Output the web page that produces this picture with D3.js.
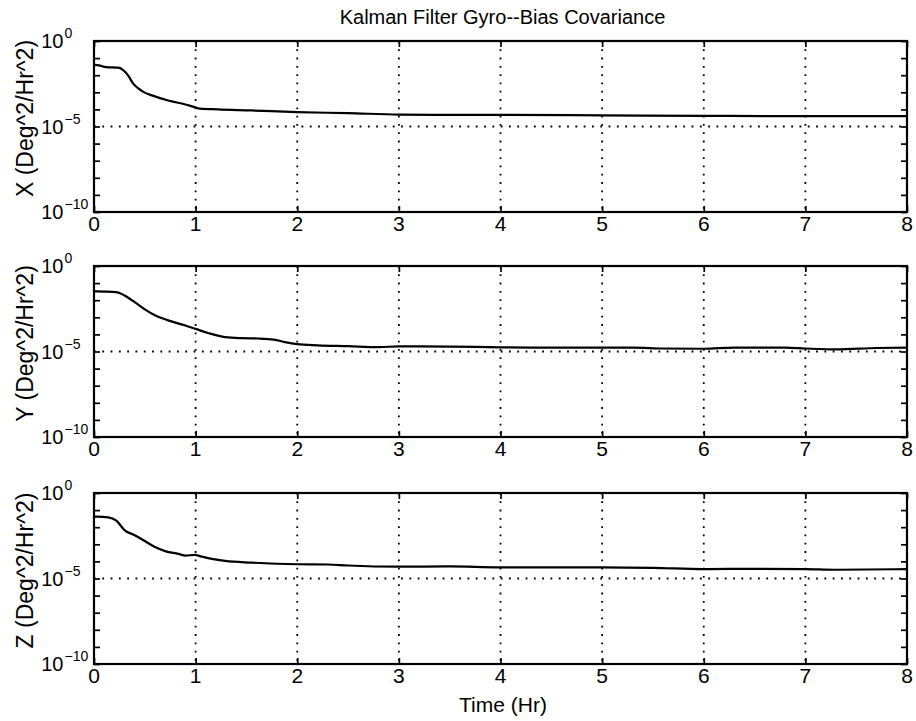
<!DOCTYPE html>
<html>
<head>
<meta charset="utf-8">
<script src="https://cdn.jsdelivr.net/npm/d3@7/dist/d3.min.js"></script>
<style>
  html, body { margin: 0; padding: 0; background: #fff; }
  svg { display: block; }
  text { font-family: "Liberation Sans", Arial, Helvetica, sans-serif; fill: #000; }
</style>
</head>
<body>
<svg id="chart" width="916" height="721"></svg>
<script>
// Gyro-bias covariance from the Kalman filter, one trace per axis (Deg^2/Hr^2)
const titleText = "Kalman Filter Gyro--Bias Covariance";
const xLabel = "Time (Hr)";
const axisNames = ["X", "Y", "Z"];
const xTicks = [0, 1, 2, 3, 4, 5, 6, 7, 8];
const yMajorExps = [0, -5, -10];
const yMinorExps = [-1, -2, -3, -4, -6, -7, -8, -9];

const timeX = [0, 0.03, 0.12, 0.24, 0.29, 0.34, 0.38, 0.43, 0.49, 0.57, 0.73, 0.90, 0.99, 1.04, 1.22, 1.55, 2.0, 2.5, 3.0, 3.5, 4.0, 5.0, 6.0, 7.0, 8.0];
const covX  = [4.0e-2, 3.9e-2, 3.0e-2, 2.75e-2, 1.9e-2, 8.9e-3, 3.6e-3, 1.8e-3, 1.02e-3, 6.6e-4, 3.3e-4, 1.95e-4, 1.35e-4, 1.12e-4, 1.0e-4, 8.7e-5, 6.9e-5, 6.0e-5, 5.0e-5, 4.8e-5, 4.8e-5, 4.5e-5, 4.2e-5, 4.0e-5, 4.0e-5];

const timeY = [0, 0.1, 0.22, 0.3, 0.4, 0.5, 0.6, 0.73, 0.9, 1.0, 1.13, 1.29, 1.45, 1.62, 1.77, 1.88, 2.0, 2.2, 2.5, 2.8, 3.0, 3.5, 4.0, 4.5, 5.0, 5.3, 5.6, 6.0, 6.3, 6.8, 7.0, 7.3, 7.7, 8.0];
const covY  = [3.3e-2, 3.2e-2, 3.0e-2, 1.9e-2, 7.8e-3, 2.9e-3, 1.3e-3, 6.6e-4, 3.3e-4, 2.1e-4, 1.17e-4, 6.9e-5, 6.0e-5, 5.75e-5, 5.0e-5, 3.55e-5, 2.7e-5, 2.3e-5, 2.05e-5, 1.8e-5, 2.0e-5, 1.95e-5, 1.75e-5, 1.7e-5, 1.7e-5, 1.7e-5, 1.5e-5, 1.45e-5, 1.7e-5, 1.7e-5, 1.5e-5, 1.32e-5, 1.6e-5, 1.7e-5];

const timeZ = [0, 0.03, 0.14, 0.22, 0.30, 0.40, 0.50, 0.60, 0.70, 0.83, 0.90, 0.99, 1.06, 1.16, 1.29, 1.55, 2.0, 2.3, 2.5, 3.0, 3.5, 4.0, 5.0, 5.5, 6.0, 6.5, 7.0, 7.3, 8.0];
const covZ  = [4.2e-2, 4.2e-2, 3.8e-2, 2.4e-2, 6.8e-3, 3.4e-3, 1.55e-3, 6.9e-4, 4.0e-4, 2.75e-4, 2.2e-4, 2.4e-4, 1.9e-4, 1.4e-4, 1.07e-4, 8.5e-5, 6.8e-5, 6.6e-5, 5.75e-5, 4.9e-5, 5.1e-5, 4.5e-5, 4.5e-5, 4.2e-5, 3.55e-5, 3.7e-5, 3.55e-5, 3.25e-5, 3.55e-5];

const seriesTimes = [timeX, timeY, timeZ];
const seriesCov = [covX, covY, covZ];

// layout
const plotLeft = 94, plotRight = 907;
const panelTops = [41, 266, 493];
const panelH = 171;
const tickLen = 6;

const svg = d3.select("#chart");
const x = d3.scaleLinear().domain([0, 8]).range([plotLeft, plotRight]);

svg.append("text")
  .attr("x", (plotLeft + plotRight) / 2 + 2)
  .attr("y", 24)
  .attr("text-anchor", "middle")
  .style("font-size", "20px")
  .text(titleText);

axisNames.forEach((name, i) => {
  const top = panelTops[i], bottom = top + panelH;
  const y = d3.scaleLog().domain([1e-10, 1]).range([bottom, top]);
  const g = svg.append("g");

  // dotted grid: vertical at each hour, horizontal at the 1e-5 decade
  const dots = "1.8,6.5";
  g.selectAll(".vgrid").data(xTicks.filter(t => t > 0 && t < 8)).join("line")
    .attr("x1", d => x(d)).attr("x2", d => x(d))
    .attr("y1", top).attr("y2", bottom)
    .attr("stroke", "#000").attr("stroke-width", 1.8)
    .attr("stroke-dasharray", dots);
  g.append("line")
    .attr("x1", plotLeft).attr("x2", plotRight)
    .attr("y1", y(1e-5)).attr("y2", y(1e-5))
    .attr("stroke", "#000").attr("stroke-width", 1.8)
    .attr("stroke-dasharray", dots);

  // covariance trace
  const pts = seriesTimes[i].map((t, k) => [t, seriesCov[i][k]]);
  g.append("path")
    .datum(pts)
    .attr("fill", "none")
    .attr("stroke", "#000")
    .attr("stroke-width", 2.2)
    .attr("stroke-linejoin", "round")
    .attr("d", d3.line().x(d => x(d[0])).y(d => y(d[1])).curve(d3.curveMonotoneX));

  // axes with inward ticks on all four sides
  const xb = d3.axisBottom(x).tickValues(xTicks).tickSize(-tickLen).tickFormat("");
  const xt = d3.axisTop(x).tickValues(xTicks).tickSize(-tickLen).tickFormat("");
  const allDecades = yMajorExps.concat(yMinorExps).map(e => Math.pow(10, e));
  const yl = d3.axisLeft(y).tickValues(allDecades).tickSize(-tickLen).tickFormat("");
  const yr = d3.axisRight(y).tickValues(allDecades).tickSize(-tickLen).tickFormat("");
  [[xb, `translate(0,${bottom})`], [xt, `translate(0,${top})`],
   [yl, `translate(${plotLeft},0)`], [yr, `translate(${plotRight},0)`]].forEach(([ax, tr]) => {
    const a = g.append("g").attr("transform", tr).call(ax);
    a.select(".domain").remove();
    a.selectAll(".tick line").attr("stroke", "#000").attr("stroke-width", 1.7);
  });

  // frame
  g.append("rect")
    .attr("x", plotLeft).attr("y", top)
    .attr("width", plotRight - plotLeft).attr("height", panelH)
    .attr("fill", "none").attr("stroke", "#000").attr("stroke-width", 2.2);

  // x tick labels
  g.selectAll(".xl").data(xTicks).join("text")
    .attr("x", d => x(d)).attr("y", bottom + 19)
    .attr("text-anchor", "middle")
    .style("font-size", "21px")
    .text(d => d);

  // y tick labels as 10 with a raised exponent
  yMajorExps.forEach(e => {
    const yy = y(Math.pow(10, e));
    g.append("text")
      .attr("x", 63.5).attr("y", yy + 7)
      .attr("text-anchor", "end")
      .style("font-size", "20px")
      .text("10");
    g.append("text")
      .attr("x", 64.5).attr("y", yy - 3)
      .attr("text-anchor", "start")
      .style("font-size", "14px")
      .text(e === 0 ? "0" : "\u2212" + Math.abs(e));
  });

  // y axis title
  g.append("text")
    .attr("transform", `translate(33,${(top + bottom) / 2 - 8}) rotate(-90)`)
    .attr("text-anchor", "middle")
    .style("font-size", "23px")
    .text(`${name} (Deg^2/Hr^2)`);
});

svg.append("text")
  .attr("x", 503).attr("y", 712)
  .attr("text-anchor", "middle")
  .style("font-size", "21px")
  .text(xLabel);
</script>
</body>
</html>
